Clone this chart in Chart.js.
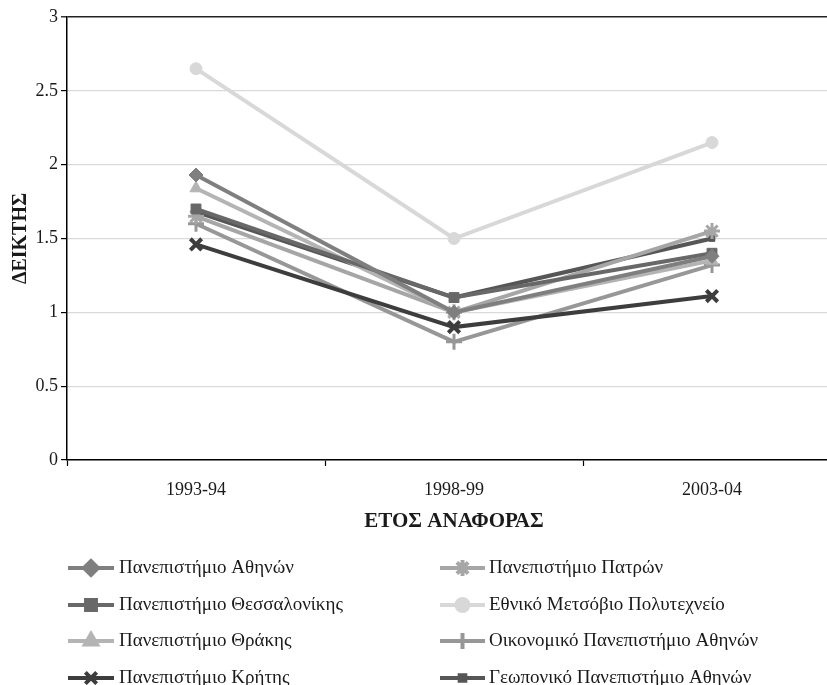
<!DOCTYPE html>
<html lang="el">
<head>
<meta charset="utf-8">
<script src="https://cdn.jsdelivr.net/npm/chart.js@4/dist/chart.umd.min.js"></script>
<style>
  html, body { margin: 0; padding: 0; background: #fff; overflow: hidden; }
  #wrap { width: 860px; height: 685px; }
</style>
</head>
<body>
<div id="wrap"><canvas id="c" width="860" height="685"></canvas></div>
<script>
// Reference years (x categories)
const years = ['1993-94', '1998-99', '2003-04'];

// Index per university
const athens       = [1.93, 1.00, 1.38];
const thessaloniki = [1.70, 1.10, 1.40];
const thrace       = [1.84, 1.00, 1.35];
const crete        = [1.46, 0.90, 1.11];
const patras       = [1.65, 1.00, 1.55];
const polytechnic  = [2.65, 1.50, 2.15];
const economics    = [1.60, 0.80, 1.32];
const agricultural = [1.68, 1.10, 1.50];

const yTicks = [0, 0.5, 1, 1.5, 2, 2.5, 3];

const SERIF = '"Liberation Serif", "DejaVu Serif", serif';

function series(label, data, color, pointStyle, radius, bw) {
  return {
    label, data,
    borderColor: color,
    backgroundColor: color,
    pointBackgroundColor: color,
    pointBorderColor: color,
    borderWidth: 4,
    pointStyle,
    pointRadius: radius,
    pointHoverRadius: radius,
    pointBorderWidth: bw,
    tension: 0
  };
}

const datasets = [
  series('Πανεπιστήμιο Αθηνών',            athens,       '#7f7f7f', 'rectRot',  7, 1),
  series('Πανεπιστήμιο Θεσσαλονίκης',      thessaloniki, '#686868', 'rect',     7, 1),
  series('Πανεπιστήμιο Θράκης',            thrace,       '#b4b4b4', 'triangle', 7, 1),
  series('Πανεπιστήμιο Κρήτης',            crete,        '#3d3d3d', 'crossRot', 8, 4),
  series('Πανεπιστήμιο Πατρών',            patras,       '#a6a6a6', 'star',     8, 3),
  series('Εθνικό Μετσόβιο Πολυτεχνείο',    polytechnic,  '#d8d8d8', 'circle',   6, 1),
  series('Οικονομικό Πανεπιστήμιο Αθηνών', economics,    '#979797', 'cross',    8, 3),
  series('Γεωπονικό Πανεπιστήμιο Αθηνών',  agricultural, '#565656', 'rect',     4, 1)
];

// Two-column legend below the plot (left column first, then right column)
const columnLegend = {
  id: 'columnLegend',
  afterDraw(chart) {
    const ctx = chart.ctx;
    const cols = [{ x0: 68, x1: 114, tx: 119 }, { x0: 440, x1: 485, tx: 489 }];
    const rows = [568, 605, 641, 678];
    ctx.save();
    chart.data.datasets.forEach((ds, i) => {
      const col = cols[Math.floor(i / 4)];
      const y = rows[i % 4];
      ctx.strokeStyle = ds.borderColor;
      ctx.fillStyle = ds.borderColor;
      ctx.lineWidth = 4;
      ctx.beginPath();
      ctx.moveTo(col.x0, y);
      ctx.lineTo(col.x1, y);
      ctx.stroke();
      Chart.helpers.drawPoint(ctx, {
        pointStyle: ds.pointStyle,
        radius: ds.pointRadius,
        borderWidth: ds.pointBorderWidth,
        rotation: 0
      }, (col.x0 + col.x1) / 2, y);
      ctx.fillStyle = '#1a1a1a';
      ctx.font = '19px ' + SERIF;
      ctx.textBaseline = 'middle';
      ctx.textAlign = 'left';
      ctx.fillText(ds.label, col.tx, y);
    });
    ctx.restore();
  }
};

new Chart(document.getElementById('c'), {
  type: 'line',
  data: { labels: years, datasets },
  plugins: [columnLegend],
  options: {
    responsive: false,
    animation: false,
    devicePixelRatio: 1,
    layout: { padding: { top: 17, left: 0, right: 19, bottom: 145 } },
    plugins: {
      legend: { display: false },
      tooltip: { enabled: false }
    },
    scales: {
      x: {
        type: 'category',
        offset: true,
        afterFit(scale) { scale.height = 80; },
        border: { color: '#000', width: 1.5 },
        grid: {
          offset: true,
          drawOnChartArea: false,
          drawTicks: true,
          tickLength: 6,
          tickColor: '#000',
          tickWidth: 1.2
        },
        ticks: {
          color: '#1a1a1a',
          padding: 13,
          font: { family: SERIF, size: 18 },
          maxRotation: 0
        },
        title: {
          display: true,
          text: 'ΕΤΟΣ ΑΝΑΦΟΡΑΣ',
          color: '#1a1a1a',
          font: { family: SERIF, size: 21, weight: 'bold' },
          padding: { top: 0, bottom: 6 }
        }
      },
      y: {
        min: 0,
        max: 3,
        afterFit(scale) { scale.width = 67; },
        afterBuildTicks(scale) { scale.ticks = yTicks.map(v => ({ value: v })); },
        border: { color: '#000', width: 1.5 },
        grid: {
          color: ctx => (ctx.tick && ctx.tick.value === 3) ? '#222' : '#d9d9d9',
          lineWidth: ctx => (ctx.tick && ctx.tick.value === 3) ? 1.6 : 1.2,
          drawTicks: true,
          tickLength: 6,
          tickColor: '#000',
          tickWidth: 1.2
        },
        ticks: {
          color: '#1a1a1a',
          padding: 3,
          font: { family: SERIF, size: 18 },
          callback: v => String(v)
        },
        title: {
          display: true,
          text: 'ΔΕΙΚΤΗΣ',
          color: '#1a1a1a',
          font: { family: SERIF, size: 20, weight: 'bold' },
          padding: { top: 9, bottom: 0 }
        }
      }
    }
  }
});
</script>
</body>
</html>
